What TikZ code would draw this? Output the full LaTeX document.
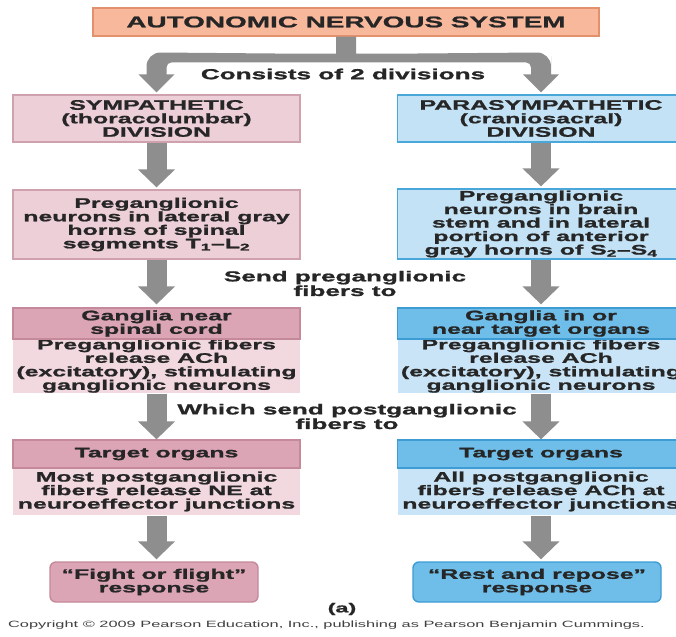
\documentclass[tikz,border=0pt]{standalone}
\usepackage{fontspec}
\setmainfont{Liberation Sans}[FakeStretch=1.8,BoldFeatures={FakeBold=1.2}]
\usetikzlibrary{arrows.meta,calc}

\definecolor{ansorange}{HTML}{F7B89C}
\definecolor{ansorangeline}{HTML}{E2916C}
\definecolor{sympink}{HTML}{ECCFD7}
\definecolor{sympinkline}{HTML}{CFA1AF}
\definecolor{sympinkdark}{HTML}{DCA5B5}
\definecolor{sympinkdarkline}{HTML}{C4899A}
\definecolor{sympinklight}{HTML}{F2D8DF}
\definecolor{parablue}{HTML}{C4E2F5}
\definecolor{parablueline}{HTML}{4AA7DA}
\definecolor{parabluedark}{HTML}{6FBEEA}
\definecolor{parabluedarkline}{HTML}{3C9CD3}
\definecolor{parabluelight}{HTML}{C9E4F6}
\definecolor{arrowgray}{HTML}{8E8E8E}
\definecolor{inkgray}{HTML}{262626}

\pgfkeys{/pixels/.code=\tikzset{x={(1pt,0pt)},y={(0pt,-1pt)}}}
\tikzset{
  txt/.style={font=\bfseries\fontsize{13.8}{13.5}\selectfont,text=inkgray,align=center,inner sep=0pt},
  note/.style={txt,font=\bfseries\fontsize{14.5}{13.5}\selectfont},
  box/.style={txt,line width=1.2pt,minimum width=287pt},
  symbox/.style={box,fill=sympink,draw=sympinkline},
  parabox/.style={box,fill=parablue,draw=parablueline},
  symhead/.style={box,fill=sympinkdark,draw=sympinkdarkline},
  parahead/.style={box,fill=parabluedark,draw=parabluedarkline},
  symbody/.style={box,fill=sympinklight},
  parabody/.style={box,fill=parabluelight},
  symend/.style={txt,fill=sympinkdark,draw=sympinkdarkline,line width=1.4pt,rounded corners=6pt,minimum height=40pt},
  paraend/.style={txt,fill=parabluedark,draw=parabluedarkline,line width=1.4pt,rounded corners=6pt,minimum height=40pt},
  flow/.style={draw=arrowgray,line width=20pt,-{Triangle[width=36pt,length=18pt]}},
}

\begin{document}
\begin{tikzpicture}[/pixels]
    \fill[white] (0,0) rectangle (676,636);
    \useasboundingbox (0,0) rectangle (676,636);

    \node[txt,fill=ansorange,draw=ansorangeline,line width=1.2pt,minimum width=506pt,minimum height=28pt,
          font=\bfseries\fontsize{15.5}{15}\selectfont] (ans) at (346,22) {AUTONOMIC NERVOUS SYSTEM};
    \node[note] (consists) at (343,74) {Consists of 2 divisions};

    \node[symbox,minimum height=47pt] (sym) at (156.5,118.5) {SYMPATHETIC\\(thoracolumbar)\\DIVISION};
    \node[parabox,minimum height=47pt] (para) at (541,118.5) {PARASYMPATHETIC\\(craniosacral)\\DIVISION};

    \node[symbox,minimum height=69pt] (sympre) at (156.5,224.5)
      {Preganglionic\\neurons in lateral gray\\horns of spinal\\segments T\textsubscript{1}–L\textsubscript{2}};
    \node[parabox,minimum height=70pt] (parapre) at (541,224)
      {Preganglionic\\neurons in brain\\stem and in lateral\\portion of anterior\\gray horns of S\textsubscript{2}–S\textsubscript{4}};
    \node[note] (sendpre) at (345,283.5) {Send preganglionic\\fibers to};

    \node[symbody,minimum height=54pt] (symgangbody) at (156.5,366)
      {Preganglionic fibers\\release ACh\\(excitatory), stimulating\\ganglionic neurons};
    \node[symhead,minimum height=31pt] (symgang) at (156.5,323.5) {Ganglia near\\spinal cord};
    \node[parabody,minimum height=54pt] (paragangbody) at (541,366)
      {Preganglionic fibers\\release ACh\\(excitatory), stimulating\\ganglionic neurons};
    \node[parahead,minimum height=31pt] (paragang) at (541,323.5) {Ganglia in or\\near target organs};
    \node[note] (sendpost) at (347,416.5) {Which send postganglionic\\fibers to};

    \node[symbody,minimum height=47pt] (symtargetbody) at (156.5,491.5)
      {Most postganglionic\\fibers release NE at\\neuroeffector junctions};
    \node[symhead,minimum height=28pt] (symtarget) at (156.5,454) {Target organs};
    \node[parabody,minimum height=47pt] (paratargetbody) at (541,491.5)
      {All postganglionic\\fibers release ACh at\\neuroeffector junctions};
    \node[parahead,minimum height=28pt] (paratarget) at (541,454) {Target organs};

    \node[symend,minimum width=208pt] (fight) at (154,582) {“Fight or flight”\\response};
    \node[paraend,minimum width=248pt] (rest) at (537,582) {“Rest and repose”\\response};

    \node[txt,font=\bfseries\fontsize{13}{13}\selectfont] (part) at (342,609) {(a)};
    \node[txt,font=\fontsize{9.1}{10}\selectfont,text=black!75] (credit) at (326.5,625)
      {Copyright © 2009 Pearson Education, Inc., publishing as Pearson Benjamin Cummings.};

    % split arrow under the title
    \coordinate (top) at (ans.south);
    \coordinate (ltip) at ([yshift=2pt]sym.north);
    \coordinate (rtip) at ([yshift=2pt]para.north);
    \fill[arrowgray]
      ($(top)+(-10,0)$) -- ($(top)+(10,0)$) -- ($(top)+(10,17)$)
      -- ($(top)+(60,17)$) [rounded corners=14pt] -- ($(rtip)+(10,-40)$) -- ($(rtip)+(10,-22)$) [sharp corners]
      -- ($(rtip)+(10,-18)$) -- ($(rtip)+(18,-18)$) -- (rtip) -- ($(rtip)+(-18,-18)$) -- ($(rtip)+(-10,-18)$)
      -- ($(rtip)+(-10,-24)$) [rounded corners=5pt] -- ($(rtip)+(-10,-30)$) -- ($(rtip)+(-40,-30)$) [sharp corners]
      -- ($(ltip)+(40,-30)$) [rounded corners=5pt] -- ($(ltip)+(10,-30)$) -- ($(ltip)+(10,-24)$) [sharp corners]
      -- ($(ltip)+(10,-18)$) -- ($(ltip)+(18,-18)$) -- (ltip) -- ($(ltip)+(-18,-18)$) -- ($(ltip)+(-10,-18)$)
      -- ($(ltip)+(-10,-22)$) [rounded corners=14pt] -- ($(ltip)+(-10,-40)$) -- ($(top)+(-60,17)$) [sharp corners]
      -- ($(top)+(-10,17)$) -- cycle;

    \draw[flow] (sym.south) -- ([yshift=2pt]sympre.north);
    \draw[flow] (sympre.south) -- ([yshift=3pt]symgang.north);
    \draw[flow] (symgangbody.south) -- (symtarget.north);
    \draw[flow] (symtargetbody.south) -- ([yshift=2pt]symtargetbody.south |- fight.north);

    \draw[flow] (para.south) -- ([yshift=2pt]parapre.north);
    \draw[flow] (parapre.south) -- ([yshift=3pt]paragang.north);
    \draw[flow] (paragangbody.south) -- (paratarget.north);
    \draw[flow] (paratargetbody.south) -- ([yshift=2pt]paratargetbody.south |- rest.north);
\end{tikzpicture}
\end{document}
